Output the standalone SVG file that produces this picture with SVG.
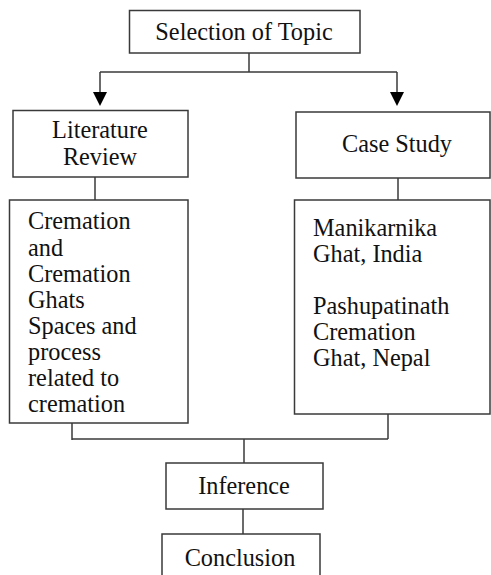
<svg xmlns="http://www.w3.org/2000/svg" width="491" height="575" viewBox="0 0 491 575">
<style>
.box{fill:#fff;stroke:#3a3a3a;stroke-width:1.5}
.ln{fill:none;stroke:#3a3a3a;stroke-width:1.5}
.ah{fill:#000}
text{font-family:"Liberation Serif","Times New Roman",serif;font-size:24.3px;fill:#111}
.c{text-anchor:middle}
</style>
<g id="connectors">
<path class="ln" d="M249,53 V72"/>
<path class="ln" d="M100,72 H397"/>
<path class="ln" d="M100,72 V95"/>
<path class="ln" d="M397,72 V95"/>
<path class="ah" d="M93,92 L107,92 L100,106 Z"/>
<path class="ah" d="M390,92 L404,92 L397,106 Z"/>
<path class="ln" d="M95,177 V200"/>
<path class="ln" d="M398,178 V200"/>
<path class="ln" d="M72,423 V440"/>
<path class="ln" d="M388,414 V439"/>
<path class="ln" d="M72,439 H388"/>
<path class="ln" d="M244,439 V463"/>
<path class="ln" d="M243,509 V534"/>
</g>
<g id="selection">
<rect class="box" x="129.5" y="10.5" width="230.5" height="42.5"/>
<text class="c" x="244" y="40">Selection of Topic</text>
</g>
<g id="literature">
<rect class="box" x="13" y="110.5" width="175" height="66.5"/>
<text class="c" x="100" y="138">Literature</text>
<text class="c" x="100" y="165">Review</text>
</g>
<g id="casestudy">
<rect class="box" x="296" y="112" width="194" height="66"/>
<text class="c" x="397" y="152">Case Study</text>
</g>
<g id="litdetails">
<rect class="box" x="9.5" y="200" width="178.5" height="223"/>
<text x="28" y="229">Cremation</text>
<text x="28" y="255.5">and</text>
<text x="28" y="281.5">Cremation</text>
<text x="28" y="307.5">Ghats</text>
<text x="28" y="334">Spaces and</text>
<text x="28" y="360">process</text>
<text x="28" y="386">related to</text>
<text x="28" y="412">cremation</text>
</g>
<g id="casedetails">
<rect class="box" x="294.5" y="200" width="195.5" height="214"/>
<text x="313" y="236">Manikarnika</text>
<text x="313" y="262">Ghat, India</text>
<text x="313" y="314">Pashupatinath</text>
<text x="313" y="340">Cremation</text>
<text x="313" y="366">Ghat, Nepal</text>
</g>
<g id="inference">
<rect class="box" x="166" y="463" width="157" height="46"/>
<text class="c" x="244" y="494">Inference</text>
</g>
<g id="conclusion">
<rect class="box" x="162" y="534" width="158" height="50"/>
<text class="c" x="240" y="566">Conclusion</text>
</g>
</svg>
